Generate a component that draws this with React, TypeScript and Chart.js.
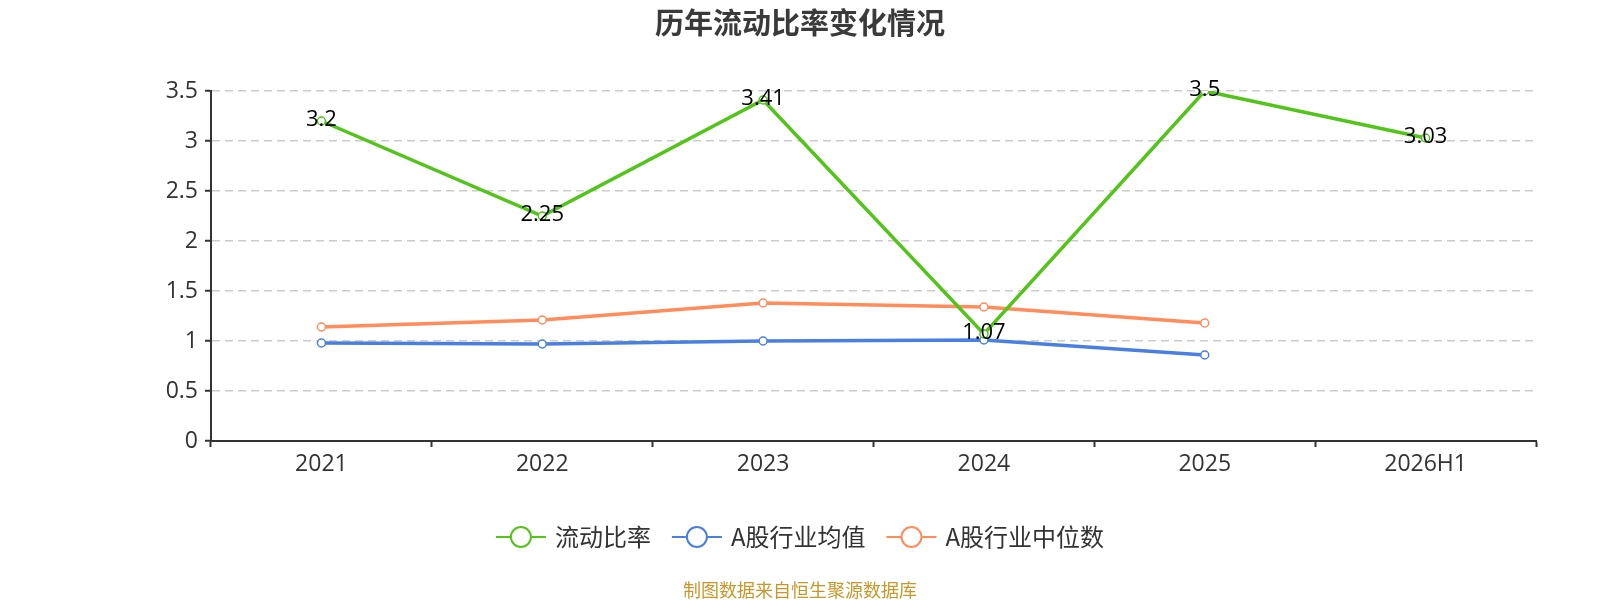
import React, { useEffect, useRef } from 'react';
import { Chart, registerables } from 'chart.js';

Chart.register(...registerables);

const categories = ['2021', '2022', '2023', '2024', '2025', '2026H1'];
const currentRatio = [3.2, 2.25, 3.41, 1.07, 3.5, 3.03];
const industryMean = [0.98, 0.97, 1.0, 1.01, 0.86, null];
const industryMedian = [1.14, 1.21, 1.38, 1.34, 1.18, null];
const seriesNames = ['流动比率', 'A股行业均值', 'A股行业中位数'];
const seriesColors = ['#52c41a', '#4a7fe2', '#ff8c5a'];

const FONT = '"Open Sans", "Noto Sans CJK SC", sans-serif';
const CJK = '"Noto Sans CJK SC", "Open Sans", sans-serif';

const extrasPlugin = {
  id: 'extras',
  afterDatasetsDraw(chart: Chart) {
    const ctx = chart.ctx;
    // value labels on the main series
    const meta = chart.getDatasetMeta(0);
    ctx.save();
    ctx.font = `22px ${FONT}`;
    ctx.fillStyle = '#000';
    ctx.textAlign = 'center';
    ctx.textBaseline = 'middle';
    meta.data.forEach((pt: any, i: number) => {
      ctx.fillText(String(currentRatio[i]), pt.x, pt.y - 1);
    });
    ctx.restore();
  },
  afterDraw(chart: Chart) {
    const ctx = chart.ctx;
    ctx.save();
    // title
    ctx.font = `bold 29px ${CJK}`;
    ctx.fillStyle = '#3a3a3a';
    ctx.textAlign = 'center';
    ctx.textBaseline = 'middle';
    ctx.fillText('历年流动比率变化情况', 800, 23);

    // legend
    ctx.font = `24px ${CJK}`;
    const iconW = 50;
    const gap = 9;
    const itemGap = 21;
    const widths = seriesNames.map((n) => iconW + gap + ctx.measureText(n).width);
    const total = widths.reduce((a, b) => a + b, 0) + itemGap * (seriesNames.length - 1);
    let x = 800 - total / 2;
    const y = 537;
    seriesNames.forEach((name, i) => {
      ctx.strokeStyle = seriesColors[i];
      ctx.lineWidth = 2;
      ctx.beginPath();
      ctx.moveTo(x, y);
      ctx.lineTo(x + iconW, y);
      ctx.stroke();
      ctx.beginPath();
      ctx.arc(x + iconW / 2, y, 10, 0, Math.PI * 2);
      ctx.fillStyle = '#fff';
      ctx.fill();
      ctx.stroke();
      ctx.fillStyle = '#333';
      ctx.textAlign = 'left';
      ctx.fillText(name, x + iconW + gap, y);
      x += widths[i] + itemGap;
    });

    // source
    ctx.font = `18px ${CJK}`;
    ctx.fillStyle = '#c9962a';
    ctx.textAlign = 'center';
    ctx.fillText('制图数据来自恒生聚源数据库', 800, 590);
    ctx.restore();
  },
};

const App: React.FC = () => {
  const chartRef = useRef<HTMLCanvasElement>(null);
  const chartInstance = useRef<Chart | null>(null);

  useEffect(() => {
    document.body.style.margin = '0';
    if (chartRef.current) {
      const ctx = chartRef.current.getContext('2d');
      if (ctx) {
        if (chartInstance.current) {
          chartInstance.current.destroy();
        }
        const mk = (label: string, data: (number | null)[], color: string) => ({
          label,
          data,
          borderColor: color,
          backgroundColor: '#fff',
          borderWidth: 3.5,
          pointRadius: 4,
          pointBorderWidth: 1.5,
          pointBackgroundColor: '#fff',
          pointBorderColor: color,
          tension: 0,
        });
        chartInstance.current = new Chart(ctx, {
          type: 'line',
          data: {
            labels: categories,
            datasets: [
              mk(seriesNames[0], currentRatio, seriesColors[0]),
              mk(seriesNames[1], industryMean, seriesColors[1]),
              mk(seriesNames[2], industryMedian, seriesColors[2]),
            ],
          },
          options: {
            animation: false,
            responsive: false,
            layout: { padding: { top: 91, right: 64, bottom: 119, left: 0 } },
            plugins: {
              legend: { display: false },
              title: { display: false },
              tooltip: { enabled: false },
            },
            scales: {
              x: {
                offset: true,
                grid: {
                  offset: true,
                  drawOnChartArea: false,
                  drawTicks: true,
                  tickLength: 6,
                  tickColor: '#333',
                  tickWidth: 2,
                },
                border: { color: '#333', width: 2 },
                ticks: { color: '#333', font: { size: 23, family: FONT }, padding: 4 },
                afterFit: (scale: any) => {
                  scale.height = 40;
                },
              },
              y: {
                min: 0,
                max: 3.5,
                ticks: {
                  stepSize: 0.5,
                  color: '#333',
                  font: { size: 23, family: FONT },
                  padding: 7,
                  callback: (v: any) => String(Number(v)),
                },
                grid: {
                  color: '#cccccc',
                  lineWidth: 1.5,
                  drawTicks: true,
                  tickLength: 6,
                  tickColor: '#333',
                  tickWidth: 2,
                },
                border: { color: '#333', width: 2, dash: [8, 5] },
                afterFit: (scale: any) => {
                  scale.width = 211;
                },
              },
            },
          },
          plugins: [extrasPlugin],
        });
      }
    }
    return () => {
      if (chartInstance.current) {
        chartInstance.current.destroy();
        chartInstance.current = null;
      }
    };
  }, []);

  return (
    <div style={{ width: 1600, height: 600, background: '#fff' }}>
      <canvas ref={chartRef} width={1600} height={600} style={{ display: 'block' }} />
    </div>
  );
};

export default App;
